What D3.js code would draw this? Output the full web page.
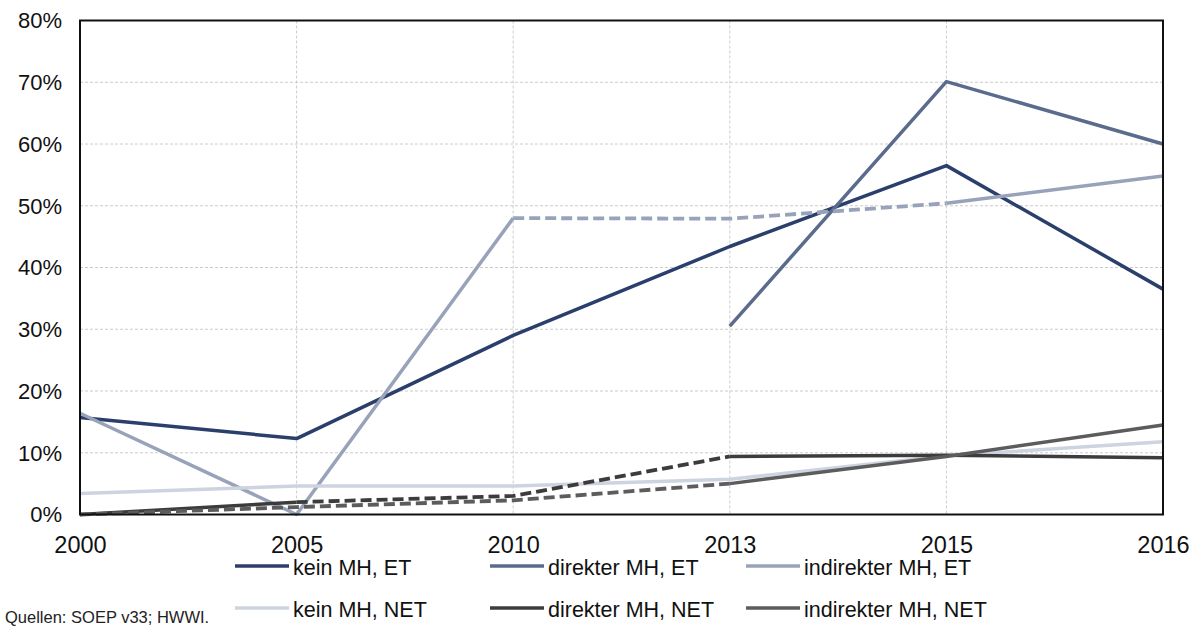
<!DOCTYPE html>
<html>
<head>
<meta charset="utf-8">
<script src="https://cdn.jsdelivr.net/npm/d3@7"></script>
<style>
  html, body { margin: 0; padding: 0; background: #fff; }
  svg { display: block; font-family: "Liberation Sans", Arial, sans-serif; }
</style>
</head>
<body>
<svg id="chart" width="1201" height="627"></svg>
<script>
// ---- data ----
const years = ["2000", "2005", "2010", "2013", "2015", "2016"];
const yTicks = [0, 10, 20, 30, 40, 50, 60, 70, 80];
const seriesNames = ["kein MH, ET", "direkter MH, ET", "indirekter MH, ET",
                     "kein MH, NET", "direkter MH, NET", "indirekter MH, NET"];
const keinET       = [15.7, 12.3, 29.0, 43.4, 56.5, 36.5];
const direkterET   = [null, null, null, 30.5, 70.1, 60.0];
const indirekterET = [16.4, 0.0, 48.0, 47.9, 50.4, 54.8];
const keinNET      = [3.4, 4.6, 4.6, 5.7, 9.5, 11.8];
const direkterNET  = [0.0, 2.0, 3.0, 9.4, 9.6, 9.2];
const indirekterNET= [0.0, 1.2, 2.3, 5.0, 9.4, 14.5];
// segments (index i = from year i to year i+1) drawn dashed (imputed values)
const dashedET_ind  = [2, 3];
const dashedNET_dir = [1, 2];
const dashedNET_ind = [0, 1, 2];
const sourceText = "Quellen: SOEP v33; HWWI.";

const colors = ["#2b3f6c", "#5b6b8d", "#98a3ba", "#cdd3e0", "#3c3c3c", "#5c5c5c"];
const seriesValues = [keinET, direkterET, indirekterET, keinNET, direkterNET, indirekterNET];
const seriesDashed = [[], [], dashedET_ind, [], dashedNET_dir, dashedNET_ind];

// ---- layout ----
const svg = d3.select("#chart");
const L = 80, R = 1163, T = 20.5, B = 514.5;

const x = d3.scalePoint().domain(years).range([L, R]);
const y = d3.scaleLinear().domain([0, 80]).range([B, T]);

// grid
const grid = svg.append("g");
grid.selectAll("line.h").data(yTicks.filter(d => d > 0 && d < 80)).join("line")
  .attr("x1", L).attr("x2", R).attr("y1", d => y(d)).attr("y2", d => y(d))
  .attr("stroke", "#cccccc").attr("stroke-width", 1).attr("stroke-dasharray", "3,2");
grid.selectAll("line.v").data(years.slice(1, -1)).join("line")
  .attr("y1", T).attr("y2", B).attr("x1", d => x(d)).attr("x2", d => x(d))
  .attr("stroke", "#cccccc").attr("stroke-width", 1).attr("stroke-dasharray", "3,2");

// y axis labels
const yAxis = d3.axisLeft(y).tickValues(yTicks).tickSize(0).tickPadding(0)
  .tickFormat(d => d + "%");
const yg = svg.append("g").attr("transform", `translate(${L - 18},0)`).call(yAxis);
yg.select(".domain").remove();
yg.selectAll("text").attr("font-size", 22).attr("fill", "#111")
  .attr("font-family", "'Liberation Sans', Arial, sans-serif").attr("dy", "0.33em");

// x axis labels
const xAxis = d3.axisBottom(x).tickSize(0).tickPadding(0);
const xg = svg.append("g").attr("transform", `translate(0,${B})`).call(xAxis);
xg.select(".domain").remove();
xg.selectAll("text").attr("font-size", 23.5).attr("fill", "#111")
  .attr("font-family", "'Liberation Sans', Arial, sans-serif")
  .attr("dy", null).attr("y", 38);

// series
const lineGen = d3.line().x(d => x(d.year)).y(d => y(d.v));
const lines = svg.append("g");
seriesValues.forEach((vals, si) => {
  const segs = [];
  for (let i = 0; i < vals.length - 1; i++) {
    if (vals[i] == null || vals[i + 1] == null) continue;
    segs.push({ i, dashed: seriesDashed[si].includes(i),
      pts: [{ year: years[i], v: vals[i] }, { year: years[i + 1], v: vals[i + 1] }] });
  }
  const runs = [];
  segs.forEach(s => {
    const last = runs[runs.length - 1];
    if (last && last.dashed === s.dashed && last.end === s.i) {
      last.pts.push(s.pts[1]); last.end = s.i + 1;
    } else {
      runs.push({ dashed: s.dashed, pts: s.pts.slice(), end: s.i + 1 });
    }
  });
  runs.forEach(r => {
    lines.append("path").attr("d", lineGen(r.pts))
      .attr("fill", "none").attr("stroke", colors[si])
      .attr("stroke-width", r.dashed ? 3.8 : 3.5)
      .attr("stroke-linejoin", "round")
      .attr("stroke-dasharray", r.dashed ? "11,5" : null);
  });
});

// frame
svg.append("rect").attr("x", L).attr("y", T).attr("width", R - L).attr("height", B - T)
  .attr("fill", "none").attr("stroke", "#111").attr("stroke-width", 2);

// legend
const legX = [235, 490, 746], legY = [566, 608];
const leg = svg.append("g");
seriesNames.forEach((name, i) => {
  const cx = legX[i % 3], cy = legY[Math.floor(i / 3)];
  leg.append("line").attr("x1", cx).attr("x2", cx + 54).attr("y1", cy).attr("y2", cy)
    .attr("stroke", colors[i]).attr("stroke-width", 3.5);
  leg.append("text").attr("x", cx + 58).attr("y", cy + 8.5).attr("font-size", 21.5)
    .attr("fill", "#111").text(name);
});

// source
svg.append("text").attr("x", 5).attr("y", 623).attr("font-size", 16.5)
  .attr("fill", "#222").text(sourceText);
</script>
</body>
</html>
